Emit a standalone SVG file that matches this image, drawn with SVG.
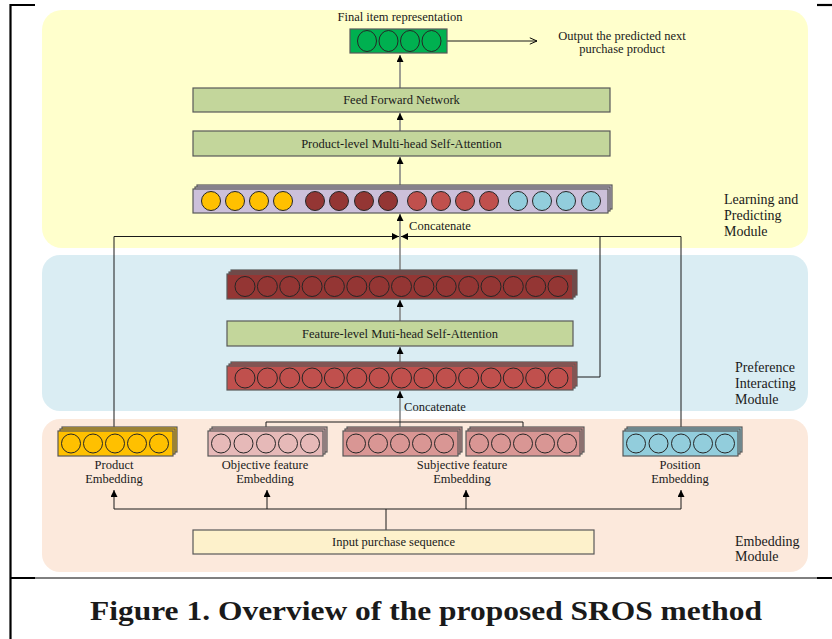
<svg xmlns="http://www.w3.org/2000/svg" width="832" height="639" viewBox="0 0 832 639">
<defs>
<marker id="ah" viewBox="0 0 10 10" refX="10" refY="5" markerWidth="7" markerHeight="7" markerUnits="userSpaceOnUse" orient="auto"><path d="M0,0 L10,5 L0,10 z" fill="#000"/></marker>
<marker id="oa" viewBox="0 0 10 10" refX="10" refY="5" markerWidth="8" markerHeight="8" markerUnits="userSpaceOnUse" orient="auto"><path d="M1,1 L10,5 L1,9" fill="none" stroke="#000" stroke-width="1.2"/></marker>
<style>
text{font-family:"Liberation Serif","Times New Roman",serif;fill:#1a1a1a}
.t{font-size:12.5px;text-anchor:middle}
.m{font-size:14px}
.box{stroke:#595959;stroke-width:1.2}
.c{stroke:#262626;stroke-width:1}
.g{fill:none;stroke:#7f7f7f;stroke-width:1.5}
.k{fill:none;stroke:#1a1a1a;stroke-width:1}
</style>
</defs>
<rect width="832" height="639" fill="#fff"/>
<!-- panels -->
<rect x="42" y="10" width="766" height="238" rx="20" fill="#ffffcc"/>
<rect x="42" y="255" width="766" height="156" rx="18" fill="#daedf3"/>
<rect x="42" y="419" width="766" height="153" rx="18" fill="#fce9dc"/>
<!-- frame -->
<g stroke="#000" fill="none">
<path d="M10.5,639 V5 H35" stroke-width="2.2"/>
<path d="M817,5 H832" stroke-width="2.2"/>
<path d="M10,578 H35 M817,578 H832" stroke-width="2.2"/>
<path d="M35,578 H817" stroke-width="1"/>
</g>
<!-- module labels -->
<g id="module-labels">
<text class="m" x="724" y="204">Learning and</text>
<text class="m" x="724" y="220">Predicting</text>
<text class="m" x="724" y="236">Module</text>
<text class="m" x="735" y="372">Preference</text>
<text class="m" x="735" y="388">Interacting</text>
<text class="m" x="735" y="404">Module</text>
<text class="m" x="735" y="546">Embedding</text>
<text class="m" x="735" y="561">Module</text>
</g>
<!-- connectors -->
<g id="connectors">
<path class="g" d="M400,88 V55" marker-end="url(#ah)"/>
<path class="g" d="M400,131 V113" marker-end="url(#ah)"/>
<path class="g" d="M400,188 V157" marker-end="url(#ah)"/>
<path class="g" d="M400,272 V214" marker-end="url(#ah)"/>
<path class="g" d="M400,321 V300" marker-end="url(#ah)"/>
<path class="g" d="M400,364 V347" marker-end="url(#ah)"/>
<path class="g" d="M400,431 V391" marker-end="url(#ah)"/>
<path class="k" d="M114,428 V236.5 H399" marker-end="url(#ah)"/>
<path class="k" d="M681,428 V236.5 H401" marker-end="url(#ah)"/>
<path class="k" d="M573,377 H600 V236.5"/>
<path class="k" d="M266,428 V422 H523 V428"/>
<path class="k" d="M447,41 H537" marker-end="url(#oa)"/>
<path class="k" d="M386,530 V509"/>
<path class="k" d="M114,509 H681"/>
<path class="k" d="M114,509 V490" marker-end="url(#ah)"/>
<path class="k" d="M267,509 V490" marker-end="url(#ah)"/>
<path class="k" d="M466,509 V490" marker-end="url(#ah)"/>
<path class="k" d="M681,509 V490" marker-end="url(#ah)"/>
</g>
<!-- final representation -->
<g id="final">
<text class="t" x="400" y="21">Final item representation</text>
<rect class="box" x="350" y="29" width="97" height="24" fill="#00b050"/>
<g class="c" fill="#00b050">
<ellipse cx="367" cy="41" rx="9.5" ry="10.5"/><ellipse cx="388.5" cy="41" rx="9.5" ry="10.5"/><ellipse cx="410" cy="41" rx="9.5" ry="10.5"/><ellipse cx="431.5" cy="41" rx="9.5" ry="10.5"/>
</g>
</g>
<g id="output">
<text class="t" x="622" y="40">Output the predicted next</text>
<text class="t" x="622" y="53">purchase product</text>
</g>
<g id="ffn"><rect class="box" x="193" y="88" width="417" height="24" fill="#c3d69b"/><text class="t" x="401.5" y="104">Feed Forward Network</text></g>
<g id="product-mhsa"><rect class="box" x="193" y="131" width="417" height="25" fill="#c3d69b"/><text class="t" x="401.5" y="147.5">Product-level Multi-head Self-Attention</text></g>
<!-- concatenated vector -->
<g id="concat-vector">
<rect class="box" x="197" y="185" width="415" height="24" fill="#ccc0da"/>
<rect class="box" x="195" y="187" width="415" height="24" fill="#ccc0da"/>
<rect class="box" x="193" y="189" width="415" height="24" fill="#ccc0da"/>
<g class="c">
<g fill="#ffc000"><circle cx="211" cy="201" r="9.5"/><circle cx="235" cy="201" r="9.5"/><circle cx="259" cy="201" r="9.5"/><circle cx="283" cy="201" r="9.5"/></g>
<g fill="#943634"><circle cx="315" cy="201" r="9.5"/><circle cx="339" cy="201" r="9.5"/><circle cx="364" cy="201" r="9.5"/><circle cx="388" cy="201" r="9.5"/></g>
<g fill="#c0504d"><circle cx="417" cy="201" r="9.5"/><circle cx="441" cy="201" r="9.5"/><circle cx="465" cy="201" r="9.5"/><circle cx="489" cy="201" r="9.5"/></g>
<g fill="#92cddc"><circle cx="518" cy="201" r="9.5"/><circle cx="542" cy="201" r="9.5"/><circle cx="566" cy="201" r="9.5"/><circle cx="591" cy="201" r="9.5"/></g>
</g>
<text class="t" x="440" y="230">Concatenate</text>
</g>
<!-- feature-level output -->
<g id="feature-output">
<rect class="box" x="231" y="270" width="346" height="25" fill="#943634"/>
<rect class="box" x="229" y="272" width="346" height="25" fill="#943634"/>
<rect class="box" x="227" y="274" width="346" height="25" fill="#943634"/>
<g class="c" fill="#943634">
<circle cx="245" cy="286.5" r="10"/><circle cx="267.4" cy="286.5" r="10"/><circle cx="289.7" cy="286.5" r="10"/><circle cx="312.1" cy="286.5" r="10"/><circle cx="334.4" cy="286.5" r="10"/><circle cx="356.8" cy="286.5" r="10"/><circle cx="379.2" cy="286.5" r="10"/><circle cx="401.5" cy="286.5" r="10"/><circle cx="423.9" cy="286.5" r="10"/><circle cx="446.2" cy="286.5" r="10"/><circle cx="468.6" cy="286.5" r="10"/><circle cx="491" cy="286.5" r="10"/><circle cx="513.3" cy="286.5" r="10"/><circle cx="535.7" cy="286.5" r="10"/><circle cx="558" cy="286.5" r="10"/>
</g>
</g>
<g id="feature-mhsa"><rect class="box" x="227" y="321" width="346" height="25" fill="#c3d69b"/><text class="t" x="400" y="337.5">Feature-level Muti-head Self-Attention</text></g>
<g id="feature-input">
<rect class="box" x="231" y="362" width="346" height="24" fill="#c0504d"/>
<rect class="box" x="229" y="364" width="346" height="24" fill="#c0504d"/>
<rect class="box" x="227" y="366" width="346" height="24" fill="#c0504d"/>
<g class="c" fill="#c0504d">
<circle cx="245" cy="378" r="10"/><circle cx="267.4" cy="378" r="10"/><circle cx="289.7" cy="378" r="10"/><circle cx="312.1" cy="378" r="10"/><circle cx="334.4" cy="378" r="10"/><circle cx="356.8" cy="378" r="10"/><circle cx="379.2" cy="378" r="10"/><circle cx="401.5" cy="378" r="10"/><circle cx="423.9" cy="378" r="10"/><circle cx="446.2" cy="378" r="10"/><circle cx="468.6" cy="378" r="10"/><circle cx="491" cy="378" r="10"/><circle cx="513.3" cy="378" r="10"/><circle cx="535.7" cy="378" r="10"/><circle cx="558" cy="378" r="10"/>
</g>
<text class="t" x="435" y="411">Concatenate</text>
</g>
<!-- embeddings -->
<g id="product-embedding">
<rect class="box" x="62" y="427" width="115" height="25" fill="#ffc000"/>
<rect class="box" x="60" y="429" width="115" height="25" fill="#ffc000"/>
<rect class="box" x="58" y="431" width="115" height="25" fill="#ffc000"/>
<g class="c" fill="#ffc000"><circle cx="71" cy="443.5" r="9.5"/><circle cx="93" cy="443.5" r="9.5"/><circle cx="115" cy="443.5" r="9.5"/><circle cx="137" cy="443.5" r="9.5"/><circle cx="159" cy="443.5" r="9.5"/></g>
<text class="t" x="114" y="469">Product</text><text class="t" x="114" y="483">Embedding</text>
</g>
<g id="objective-embedding">
<rect class="box" x="212" y="427" width="115" height="25" fill="#e6b9b8"/>
<rect class="box" x="210" y="429" width="115" height="25" fill="#e6b9b8"/>
<rect class="box" x="208" y="431" width="115" height="25" fill="#e6b9b8"/>
<g class="c" fill="#e6b9b8"><circle cx="221" cy="443.5" r="9.5"/><circle cx="243.5" cy="443.5" r="9.5"/><circle cx="266" cy="443.5" r="9.5"/><circle cx="288" cy="443.5" r="9.5"/><circle cx="310" cy="443.5" r="9.5"/></g>
<text class="t" x="265" y="469">Objective feature</text><text class="t" x="265" y="483">Embedding</text>
</g>
<g id="subjective-embedding">
<rect class="box" x="347" y="427" width="115" height="25" fill="#d99694"/>
<rect class="box" x="345" y="429" width="115" height="25" fill="#d99694"/>
<rect class="box" x="343" y="431" width="115" height="25" fill="#d99694"/>
<g class="c" fill="#d99694"><circle cx="356" cy="443.5" r="9.5"/><circle cx="378" cy="443.5" r="9.5"/><circle cx="400" cy="443.5" r="9.5"/><circle cx="422" cy="443.5" r="9.5"/><circle cx="444" cy="443.5" r="9.5"/></g>
<rect class="box" x="470" y="427" width="114" height="25" fill="#d99694"/>
<rect class="box" x="468" y="429" width="114" height="25" fill="#d99694"/>
<rect class="box" x="466" y="431" width="114" height="25" fill="#d99694"/>
<g class="c" fill="#d99694"><circle cx="479" cy="443.5" r="9.5"/><circle cx="501" cy="443.5" r="9.5"/><circle cx="523" cy="443.5" r="9.5"/><circle cx="545" cy="443.5" r="9.5"/><circle cx="567" cy="443.5" r="9.5"/></g>
<text class="t" x="462" y="469">Subjective feature</text><text class="t" x="462" y="483">Embedding</text>
</g>
<g id="position-embedding">
<rect class="box" x="627" y="427" width="115" height="25" fill="#92cddc"/>
<rect class="box" x="625" y="429" width="115" height="25" fill="#92cddc"/>
<rect class="box" x="623" y="431" width="115" height="25" fill="#92cddc"/>
<g class="c" fill="#92cddc"><circle cx="636" cy="443.5" r="9.5"/><circle cx="658.5" cy="443.5" r="9.5"/><circle cx="681" cy="443.5" r="9.5"/><circle cx="703" cy="443.5" r="9.5"/><circle cx="725" cy="443.5" r="9.5"/></g>
<text class="t" x="680" y="469">Position</text><text class="t" x="680" y="483">Embedding</text>
</g>
<g id="input"><rect class="box" x="193" y="530" width="401" height="24" fill="#fdf1cb"/><text class="t" x="393.5" y="546">Input purchase sequence</text></g>
<text x="426" y="620" text-anchor="middle" font-size="28" font-weight="bold" textLength="672" lengthAdjust="spacingAndGlyphs">Figure 1. Overview of the proposed SROS method</text>
</svg>
